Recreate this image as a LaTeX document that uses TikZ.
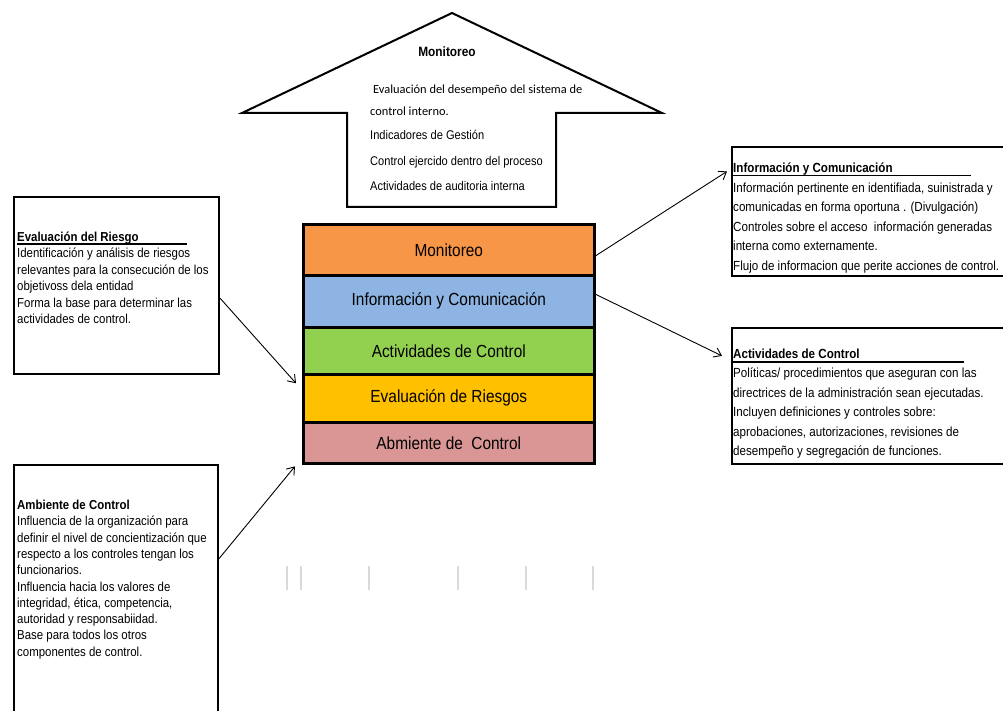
\documentclass[tikz,border=0pt]{standalone}
\usepackage{fontspec}
\setmainfont{Liberation Sans}[FakeStretch=0.88]
\newfontfamily\calibfont{Carlito}
\usetikzlibrary{arrows.meta,calc}

\definecolor{monorange}{HTML}{F79646}
\definecolor{infoblue}{HTML}{8DB4E2}
\definecolor{actgreen}{HTML}{92D050}
\definecolor{riskyellow}{HTML}{FFC000}
\definecolor{envpink}{HTML}{D99694}
\definecolor{tickgray}{HTML}{D9D9D9}

\begin{document}
\begin{tikzpicture}[x=1pt,y=-1pt,
  layer/.style={draw, line width=2.6pt, minimum width=291pt, inner sep=0pt,
    anchor=north west, font=\fontsize{17.5}{20}\selectfont},
  infobox/.style={draw, line width=1.8pt, anchor=north west, inner sep=0pt},
  % multi-line blocks are placed by the baseline of their last line
  boxtext/.style={anchor=base west, align=left, inner sep=0pt},
  arrowtext/.style={anchor=base west, inner sep=0pt, font=\fontsize{12.6}{15}\selectfont},
  titlerule/.style={line width=1.3pt},
  link/.style={-{Straight Barb[length=7pt,width=10pt]}, line width=0.9pt},
  tickmark/.style={draw=tickgray, line width=2pt}]

\useasboundingbox (0,0) rectangle (1003,711);
\clip (0,0) rectangle (1003,711);

% upward block arrow with the monitoring activities
\draw[line width=2pt, line join=miter]
  (452,13) -- (242,113) -- (347,113) -- (347,207) -- (556,207) -- (556,113) -- (662,113) -- cycle;
\node[font=\bfseries\fontsize{13.5}{16}\selectfont] (montitle) at (447,52) {Monitoreo};
\node[arrowtext, font=\calibfont\fontsize{12.4}{15}\selectfont] (mon1) at (373,94) {Evaluación del desempeño del sistema de};
\node[arrowtext, font=\calibfont\fontsize{12.4}{15}\selectfont] (mon2) at (370,116) {control interno.};
\node[arrowtext] (mon3) at (370,139.5) {Indicadores de Gestión};
\node[arrowtext] (mon4) at (370,165.5) {Control ejercido dentro del proceso};
\node[arrowtext] (mon5) at (370,190.5) {Actividades de auditoria interna};

% stacked components
\node[layer, fill=monorange, minimum height=51pt] (mon) at (302,223) {Monitoreo};
\node[layer, fill=infoblue, minimum height=52pt] (info) at (302,274) {Información y Comunicación};
\node[layer, fill=actgreen, minimum height=47pt] (act) at (302,326) {Actividades de Control};
\node[layer, fill=riskyellow, minimum height=48pt] (risk) at (302,373) {Evaluación de Riesgos};
\node[layer, fill=envpink, minimum height=41pt] (env) at (302,421) {Abmiente de\ \ Control};

% description boxes
\node[infobox, minimum width=205pt, minimum height=177pt] (evalbox) at (13,196) {};
\node[infobox, minimum width=204pt, minimum height=260pt] (ambbox) at (13,464) {};
\node[infobox, minimum width=290pt, minimum height=129pt] (infobox) at (731,146) {};
\node[infobox, minimum width=290pt, minimum height=136pt] (ctlbox) at (731,327) {};

\node[boxtext, font=\fontsize{13}{16.4}\selectfont] (evaltext) at (17,323.5) {%
  \textbf{Evaluación del Riesgo}\\
  Identificación y análisis de riesgos\\
  relevantes para la consecución de los\\
  objetivoss dela entidad\\
  Forma la base para determinar las\\
  actividades de control.};
\draw[titlerule] (17,244) -- (187,244);

\node[boxtext, font=\fontsize{13}{16.3}\selectfont] (ambtext) at (17,656.2) {%
  \textbf{Ambiente de Control}\\
  Influencia de la organización para\\
  definir el nivel de concientización que\\
  respecto a los controles tengan los\\
  funcionarios.\\
  Influencia hacia los valores de\\
  integridad, ética, competencia,\\
  autoridad y responsabiidad.\\
  Base para todos los otros\\
  componentes de control.};

\node[boxtext, font=\fontsize{13.2}{19.6}\selectfont] (infotext) at (733,270.5) {%
  \textbf{Información y Comunicación}\\
  Información pertinente en identifiada, suinistrada y\\
  comunicadas en forma oportuna . (Divulgación)\\
  Controles sobre el acceso\ \ información generadas\\
  interna como externamente.\\
  Flujo de informacion que perite acciones de control.};
\draw[titlerule] (733,175.5) -- (971,175.5);

\node[boxtext, font=\fontsize{13.2}{19.4}\selectfont] (ctltext) at (733,455.5) {%
  \textbf{Actividades de Control}\\
  Políticas/ procedimientos que aseguran con las\\
  directrices de la administración sean ejecutadas.\\
  Incluyen definiciones y controles sobre:\\
  aprobaciones, autorizaciones, revisiones de\\
  desempeño y segregación de funciones.};
\draw[titlerule] (733,362) -- (964,362);

% connectors
\draw[link] ([yshift=-6pt]mon.east) -- ([xshift=-4pt,yshift=40pt]infobox.west);
\draw[link] ([yshift=7pt]info.east) -- ([xshift=-9pt,yshift=40pt]ctlbox.west);
\draw[link] ([yshift=-12.5pt]evalbox.east) -- ([xshift=-6pt,yshift=15pt]risk.west);
\draw[link] ([yshift=36pt]ambbox.east) -- ([xshift=-7pt,yshift=-23.5pt]env.west);

% light grid marks below the stack
\foreach \tx in {287,301,369,458,526,593}
  \draw[tickmark] (\tx,566) -- (\tx,590);
\end{tikzpicture}
\end{document}
